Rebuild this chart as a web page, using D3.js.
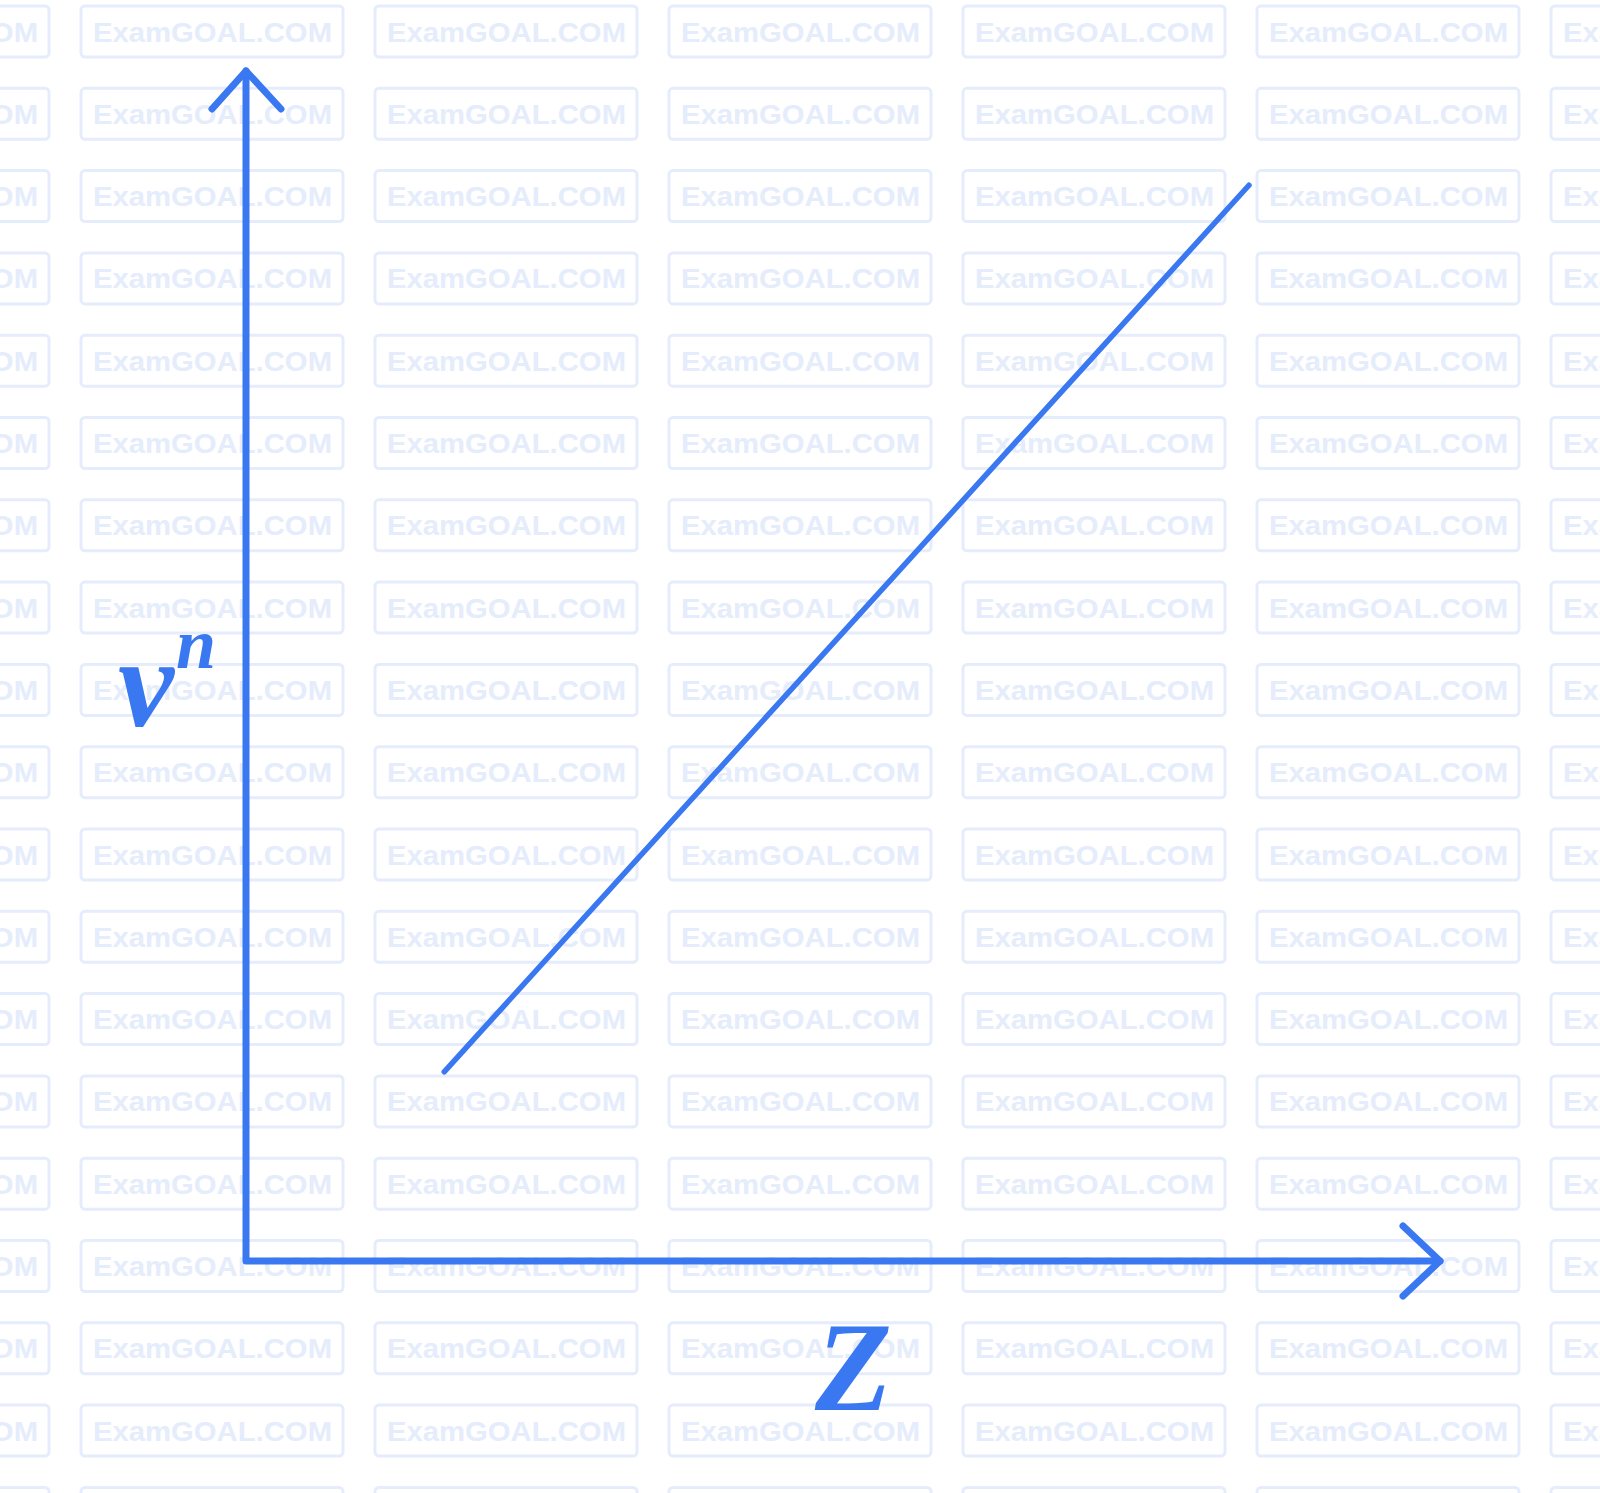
<!DOCTYPE html>
<html>
<head>
<meta charset="utf-8">
<script src="https://cdn.jsdelivr.net/npm/d3@7"></script>
<style>
  html, body { margin: 0; padding: 0; background: #ffffff; }
  svg { display: block; }
  .lbl { font-family: 'Liberation Serif', 'Times New Roman', serif; font-weight: bold; font-style: italic; }
</style>
</head>
<body>
<div id="plot"></div>
<script>
// data: straight line of v^n against Z (axis units 0..1)
const lineZ = [0.166, 0.840];
const lineVn = [0.159, 0.904];
const xLabel = "Z";
const yLabel = "v";
const yLabelExp = "n";
const watermark = "ExamGOAL.COM";

const width = 1600;
const height = 1493;
const blue = "#3a78f1";
const wmColor = "#e5ecfb";

let svg = d3.select("#plot")
    .append("svg")
    .attr("width", width)
    .attr("height", height);

// watermark grid behind everything
let wm = svg.append("g");
for (let r = 0; r < 19; r++) {
    for (let c = 0; c < 7; c++) {
        let bx = -213 + c * 294;
        let by = 6 + r * 82.3;
        wm.append("rect")
            .attr("x", bx).attr("y", by)
            .attr("width", 262).attr("height", 51)
            .attr("rx", 4)
            .attr("fill", "none")
            .attr("stroke", wmColor)
            .attr("stroke-width", 3);
        wm.append("text")
            .attr("x", bx + 12).attr("y", by + 35.5)
            .attr("textLength", 239)
            .attr("lengthAdjust", "spacingAndGlyphs")
            .attr("font-family", "Liberation Sans, Arial, sans-serif")
            .attr("font-weight", "bold")
            .attr("font-size", 28)
            .attr("fill", wmColor)
            .text(watermark);
    }
}

// scales
let xScale = d3.scaleLinear().domain([0, 1]).range([246, 1440]);
let yScale = d3.scaleLinear().domain([0, 1]).range([1261, 71]);

// axes
let axes = svg.append("g")
    .attr("stroke", blue)
    .attr("fill", "none")
    .attr("stroke-width", 7)
    .attr("stroke-linecap", "round")
    .attr("stroke-linejoin", "round");

axes.append("path")
    .attr("d", d3.line()([[xScale(0), yScale(1)], [xScale(0), yScale(0)], [xScale(1), yScale(0)]]));

// arrow heads
axes.append("path")
    .attr("d", d3.line()([[xScale(0) - 34, yScale(1) + 38], [xScale(0), yScale(1)], [xScale(0) + 35, yScale(1) + 38]]));
axes.append("path")
    .attr("d", d3.line()([[xScale(1) - 37, yScale(0) - 35], [xScale(1), yScale(0)], [xScale(1) - 37, yScale(0) + 35]]));

// the line
svg.append("path")
    .datum(lineZ.map((z, i) => [z, lineVn[i]]))
    .attr("d", d3.line().x(d => xScale(d[0])).y(d => yScale(d[1])))
    .attr("fill", "none")
    .attr("stroke", blue)
    .attr("stroke-width", 5.5)
    .attr("stroke-linecap", "round");

// axis labels
let lbl = svg.append("g")
    .attr("class", "lbl")
    .attr("fill", blue);

lbl.append("text")
    .attr("x", 118).attr("y", 726)
    .style("font-size", "126px")
    .text(yLabel);
lbl.append("text")
    .attr("x", 176).attr("y", 668)
    .style("font-size", "72px")
    .text(yLabelExp);
lbl.append("text")
    .attr("x", 815).attr("y", 1410)
    .style("font-size", "126px")
    .text(xLabel);
</script>
</body>
</html>
